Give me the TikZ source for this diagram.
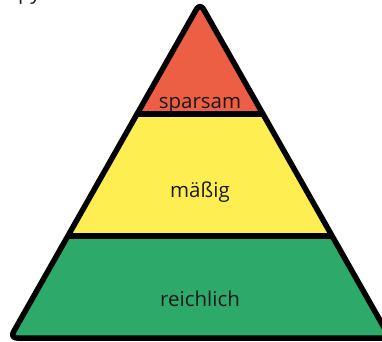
\documentclass[tikz,border=0pt]{standalone}
\usepackage{fontspec}
\setmainfont{Open Sans}
\definecolor{pred}{HTML}{EC5F44}
\definecolor{pyellow}{HTML}{FFEE52}
\definecolor{pgreen}{HTML}{2DA96A}
\definecolor{ptext}{HTML}{1A1A1A}
\tikzset{
  outline/.style={line width=5.5pt, line join=round, rounded corners=7pt},
  divider/.style={line width=5.5pt},
  label/.style={anchor=base, text=ptext, font=\fontsize{20.5}{24}\selectfont, inner sep=0pt}
}
\begin{document}
\begin{tikzpicture}[x=1pt,y=-1pt]
\useasboundingbox (0,0) rectangle (382,341);
\clip (0,0) rectangle (382,341);
\coordinate (A) at (200,3);
\coordinate (B) at (10,338);
\coordinate (C) at (390,338);
\begin{scope}
  \clip[rounded corners=7pt] (A) -- (C) -- (B) -- cycle;
  \fill[pred] (0,0) rectangle (400,114);
  \fill[pyellow] (0,114) rectangle (400,236);
  \fill[pgreen] (0,236) rectangle (400,345);
  \coordinate (l1a) at (0,114);
  \coordinate (l1b) at (400,114);
  \coordinate (l2a) at (0,236);
  \coordinate (l2b) at (400,236);
  \draw[divider] (l1a) -- (l1b);
  \draw[divider] (l2a) -- (l2b);
\end{scope}
\draw[outline] (A) -- (C) -- (B) -- cycle;
\node[label] (sp) at (200,108) {sparsam};
\node[label] (ma) at (200,197) {mäßig};
\node[label] (re) at (200,306) {reichlich};
\node[label, anchor=base west] (py) at (18,-1) {py};
\end{tikzpicture}
\end{document}
